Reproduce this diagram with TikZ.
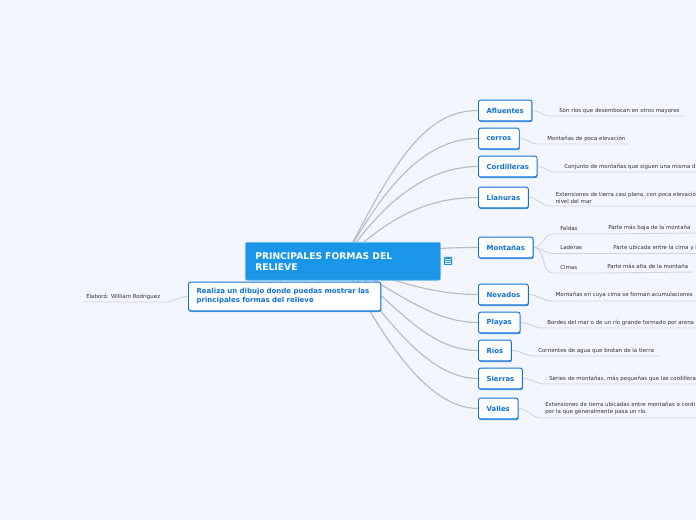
\documentclass[tikz,border=0pt]{standalone}
\usepackage{fontspec}
\usepackage{xcolor}
\setmainfont{DejaVu Sans}
\usetikzlibrary{shadows,backgrounds}
\definecolor{mapback}{RGB}{243,246,254}
\definecolor{mapblue}{RGB}{26,150,232}
\definecolor{mapink}{RGB}{15,114,216}
\definecolor{mapline}{RGB}{184,186,196}
\definecolor{maptwig}{RGB}{208,211,220}
\definecolor{maptext}{RGB}{50,50,55}
\tikzset{
    rootbox/.style={fill=mapblue, draw=mapblue!60, rounded corners=1.5pt, anchor=north west, minimum width=146.5pt, minimum height=28.5pt, text width=131.5pt, inner xsep=7.5pt, align=left, text=white, font=\fontsize{6.9}{8.3}\selectfont\bfseries},
    topicbox/.style={fill=white, draw=mapink, line width=0.7pt, rounded corners=1.5pt, anchor=west, minimum height=15.5pt, inner xsep=6.1pt, text=mapink, font=\fontsize{5.2}{6}\selectfont\bfseries, drop shadow={shadow xshift=0.4pt, shadow yshift=-1pt, fill=mapink!70, opacity=1}},
    taskbox/.style={topicbox, align=left, minimum width=143.5pt, minimum height=21.5pt, text width=132pt, font=\fontsize{5.25}{6.7}\selectfont\bfseries},
    leaftext/.style={anchor=west, inner sep=0pt, text=maptext, align=left, font=\fontsize{4.1}{5.3}\selectfont},
    branch/.style={draw=mapline, line width=0.85pt},
    twig/.style={draw=maptwig, line width=0.7pt},
}
\begin{document}
\begin{tikzpicture}[x=0.75pt, y=-0.75pt]
    \useasboundingbox (0,0) rectangle (696,520);

    % Central topic
    \node[rootbox] (root) at (245,242) {PRINCIPALES FORMAS DEL\\RELIEVE};
    \node[fill=mapblue, rounded corners=0.5pt, minimum size=6pt, inner sep=0pt] (noteicon) at (448,261) {};
    \foreach \k in {-2,0,2} {
        \draw[white, line width=0.5pt] ([xshift=-2pt, yshift=\k*0.75pt]noteicon.center) -- ([xshift=2pt, yshift=\k*0.75pt]noteicon.center);
    }

    % Topics
    \node[topicbox] (afluentes) at (478,110.5) {Afluentes};
    \node[topicbox] (cerros) at (478,138.5) {cerros};
    \node[topicbox] (cordilleras) at (478,166.5) {Cordilleras};
    \node[topicbox] (llanuras) at (478,197.5) {Llanuras};
    \node[topicbox] (montanas) at (478,247.5) {Montañas};
    \node[topicbox] (nevados) at (478,294.5) {Nevados};
    \node[topicbox] (playas) at (478,322.5) {Playas};
    \node[topicbox] (rios) at (478,350.5) {Ríos};
    \node[topicbox] (sierras) at (478,378.5) {Sierras};
    \node[topicbox] (valles) at (478,408.5) {Valles};
    \node[taskbox] (tarea) at (188,296.5) {Realiza un dibujo donde puedas mostrar las\\principales formas del relieve};

    % Leaf texts
    \node[leaftext] (tafluentes) at (559,110.7) {Son ríos que desembocan en otros mayores};
    \node[leaftext] (tcerros) at (547,138.7) {Montañas de poca elevación};
    \node[leaftext] (tcordilleras) at (564,166.7) {Conjunto de montañas que siguen una misma d};
    \node[leaftext] (tllanuras) at (555.5,197.5) {Extensiones de tierra casi plana, con poca elevació\\nivel del mar};
    \node[leaftext] (tfaldas) at (560,228.5) {Faldas};
    \node[leaftext] (tladeras) at (560,247.5) {Laderas};
    \node[leaftext] (tcimas) at (560,267.5) {Cimas};
    \node[leaftext] (tbaja) at (608,227.7) {Parte más baja de la montaña};
    \node[leaftext] (tubicada) at (613,247.7) {Parte ubicada entre la cima y l};
    \node[leaftext] (talta) at (607,266.7) {Parte más alta de la montaña};
    \node[leaftext] (tnevados) at (555.5,294.7) {Montañas en cuya cima se forman acumulaciones};
    \node[leaftext] (tplayas) at (547,322.7) {Bordes del mar o de un río grande formado por arena};
    \node[leaftext] (trios) at (538,350.7) {Corrientes de agua que brotan de la tierra};
    \node[leaftext] (tsierras) at (549,378.7) {Series de montañas, más pequeñas que las cordillera};
    \node[leaftext] (tvalles) at (545,408.7) {Extensiones de tierra ubicadas entre montañas o cordi\\por la que generalmente pasa un río.};
    \node[leaftext] (telaboro) at (86,296.5) {Elaboró:  William Rodriguez};

    \begin{scope}[on background layer]
        \fill[mapback] (0,0) rectangle (696,520);

        % Main branches
        \draw[branch] (root.center) .. controls (395,160) and (425,110.5) .. (afluentes.west);
        \draw[branch] (root.center) .. controls (385,185) and (425,138.5) .. (cerros.west);
        \draw[branch] (root.center) .. controls (380,205) and (425,166.5) .. (cordilleras.west);
        \draw[branch] (root.center) .. controls (390,215) and (430,197.5) .. (llanuras.west);
        \draw[branch] (root.center) .. controls (400,250) and (440,247.5) .. (montanas.west);
        \draw[branch] (root.center) .. controls (400,285) and (440,294.5) .. (nevados.west);
        \draw[branch] (root.center) .. controls (400,295) and (435,322.5) .. (playas.west);
        \draw[branch] (root.center) .. controls (400,310) and (430,350.5) .. (rios.west);
        \draw[branch] (root.center) .. controls (390,325) and (430,378.5) .. (sierras.west);
        \draw[branch] (root.center) .. controls (385,345) and (430,408.5) .. (valles.west);

        % Leaf lines
        \foreach \name/\xa/\ya/\xb in {afluentes/550/116/685, cerros/537/144/629, cordilleras/555/172/696, llanuras/550/206/696, nevados/552/301/696, playas/543/328/696, rios/534/356/660, sierras/545/384/696, valles/541/418/696} {
            \coordinate (\name a) at (\xa,\ya);
            \coordinate (\name b) at (\xb,\ya);
            \draw[twig] (\name.east) to[out=0, in=180] (\name a) -- (\name b);
        }

        % Montañas has two levels
        \coordinate (faldasa) at (553,234);
        \coordinate (faldasb) at (603,234);
        \coordinate (faldasc) at (696,233);
        \coordinate (laderasa) at (553,253.5);
        \coordinate (laderasb) at (696,253.5);
        \coordinate (cimasa) at (553,273);
        \coordinate (cimasb) at (603,273);
        \coordinate (cimasc) at (693,272);
        \draw[twig] (montanas.east) to[out=0, in=180] (faldasa) -- (faldasb) -- (faldasc);
        \draw[twig] (montanas.east) to[out=0, in=180] (laderasa) -- (laderasb);
        \draw[twig] (montanas.east) to[out=0, in=180] (cimasa) -- (cimasb) -- (cimasc);

        % Elaboro
        \coordinate (elaboroa) at (165,302);
        \coordinate (elaborob) at (82,302);
        \draw[twig] (tarea.west) to[out=180, in=0] (elaboroa) -- (elaborob);
    \end{scope}
\end{tikzpicture}
\end{document}
